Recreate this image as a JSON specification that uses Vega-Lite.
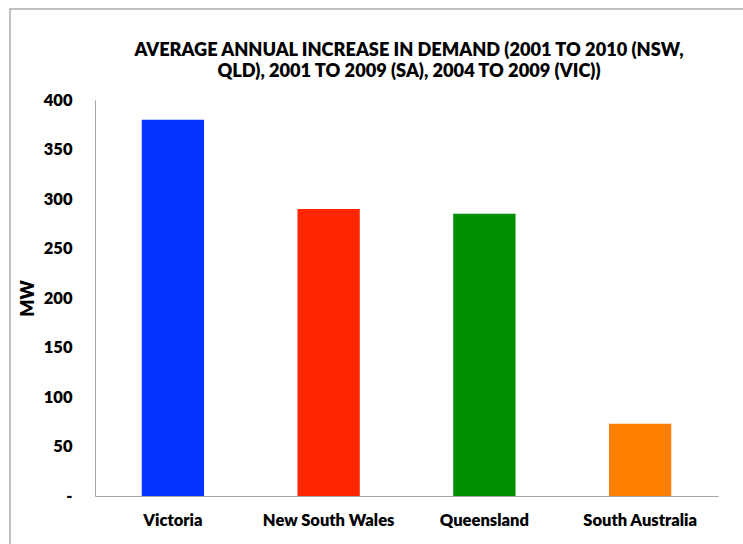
{
  "$schema": "https://vega.github.io/schema/vega-lite/v6.json",
  "autosize": {"type": "none"},
  "padding": {"left": 10, "top": 9, "right": -7, "bottom": -5},
  "width": 740,
  "height": 540,
  "background": "white",
  "view": {"stroke": "#ADADAD", "strokeWidth": 1.5, "fill": "white"},
  "config": {
    "font": "Lato"
  },
  "title": {
    "text": ["AVERAGE ANNUAL INCREASE IN DEMAND (2001 TO 2010 (NSW,", "QLD), 2001 TO 2009 (SA), 2004 TO 2009 (VIC))"],
    "anchor": "start",
    "frame": "group",
    "align": "center",
    "font": "Lato",
    "fontSize": 18.2,
    "fontWeight": 800,
    "color": "#000000",
    "lineHeight": 21,
    "baseline": "top",
    "offset": 0,
    "dx": 399,
    "dy": 72
  },
  "data": {
    "values": [
      {"region": "Victoria", "mw": 380},
      {"region": "New South Wales", "mw": 290},
      {"region": "Queensland", "mw": 285},
      {"region": "South Australia", "mw": 73}
    ]
  },
  "mark": {"type": "bar"},
  "encoding": {
    "x": {
      "field": "region",
      "type": "nominal",
      "sort": null,
      "scale": {"range": [85, 708], "paddingInner": 0.6, "paddingOuter": 0.3},
      "axis": {
        "title": null,
        "offset": -53,
        "labelAngle": 0,
        "ticks": false,
        "labelPadding": 16,
        "labelFont": "Lato",
        "labelFontSize": 16.5,
        "labelFontWeight": 800,
        "labelColor": "#000000",
        "domainColor": "#A6A6A6",
        "domainWidth": 1,
        "grid": false
      }
    },
    "y": {
      "field": "mw",
      "type": "quantitative",
      "scale": {"domain": [0, 400], "range": [487, 91], "nice": false, "zero": true},
      "axis": {
        "title": "MW",
        "offset": -85,
        "values": [0, 50, 100, 150, 200, 250, 300, 350, 400],
        "labelExpr": "datum.value == 0 ? '-\u00a0\u00a0' : datum.label",
        "ticks": false,
        "grid": false,
        "labelPadding": 23,
        "labelFont": "Lato",
        "labelFontSize": 16.5,
        "labelFontWeight": 800,
        "labelColor": "#000000",
        "domainColor": "#A6A6A6",
        "domainWidth": 1,
        "titleFont": "Lato",
        "titleFontSize": 18,
        "titleFontWeight": 800,
        "titleColor": "#000000",
        "titleAngle": -90,
        "titleBaseline": "middle",
        "titleAlign": "center",
        "titleX": -67,
        "titleY": 289
      }
    },
    "color": {
      "field": "region",
      "type": "nominal",
      "sort": null,
      "scale": {
        "domain": ["Victoria", "New South Wales", "Queensland", "South Australia"],
        "range": ["#0433FF", "#FF2600", "#008F00", "#FF8000"]
      },
      "legend": null
    }
  }
}
